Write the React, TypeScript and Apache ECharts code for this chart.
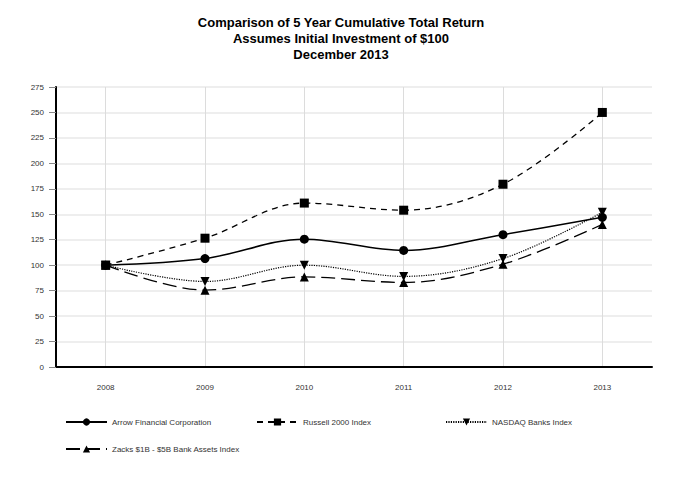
import React, { useEffect, useRef } from "react";
import * as echarts from "echarts";

const years = ["2008", "2009", "2010", "2011", "2012", "2013"];
const arrow = [100, 106.5, 125.5, 114.5, 130, 147];
const russell = [100, 126.5, 161, 154, 179.5, 250];
const nasdaq = [100, 84, 100, 89, 106.5, 152];
const zacks = [100, 75.5, 88.5, 83, 101, 140];
const seriesNames = [
  "Arrow Financial Corporation",
  "Russell 2000 Index",
  "NASDAQ Banks Index",
  "Zacks $1B - $5B Bank Assets Index",
];
const titleText =
  "Comparison of 5 Year Cumulative Total Return\nAssumes Initial Investment of $100\nDecember 2013";

export default function App() {
  const ref = useRef<HTMLDivElement>(null);
  useEffect(() => {
    if (!ref.current) return;
    const chart = echarts.init(ref.current, undefined, { renderer: "svg" });
    const font = "Liberation Sans, Arial, sans-serif";
    const mk = (
      name: string,
      data: number[],
      symbol: string,
      type: any,
      width: number,
      size: number
    ) => ({
      name,
      type: "line",
      data,
      smooth: 0.35,
      symbol,
      symbolSize: size,
      showSymbol: true,
      lineStyle: { color: "#000", width, type },
      itemStyle: { color: "#000" },
      emphasis: { disabled: true },
    });
    const legendCommon = {
      itemWidth: 41,
      itemHeight: 9,
      itemGap: 9,
      textStyle: { fontSize: 8, color: "#333", fontFamily: font },
      selectedMode: false,
    };
    chart.setOption({
      animation: false,
      backgroundColor: "#fff",
      title: {
        text: titleText,
        left: "center",
        top: 9,
        textStyle: {
          fontSize: 13,
          fontWeight: "bold",
          color: "#000",
          lineHeight: 16,
          fontFamily: font,
        },
      },
      grid: { left: 56, right: 30, top: 87, bottom: 113 },
      legend: [
        { ...legendCommon, data: [seriesNames[0]], left: 60, top: 413 },
        { ...legendCommon, data: [seriesNames[1]], left: 251, top: 413 },
        { ...legendCommon, data: [seriesNames[2]], left: 440, top: 413 },
        { ...legendCommon, data: [seriesNames[3]], left: 60, top: 440 },
      ],
      xAxis: {
        type: "category",
        data: years,
        boundaryGap: true,
        axisLine: { lineStyle: { color: "#000", width: 2 } },
        axisTick: {
          alignWithLabel: true,
          length: 9,
          lineStyle: { color: "#888" },
        },
        axisLabel: { fontSize: 8, color: "#333", margin: 16, fontFamily: font },
        splitLine: {
          show: true,
          alignWithLabel: true,
          lineStyle: { color: "#dcdcdc", width: 1 },
        },
      },
      yAxis: {
        type: "value",
        min: 0,
        max: 275,
        interval: 25,
        axisLine: { show: true, lineStyle: { color: "#000", width: 2 } },
        axisTick: { show: true, length: 7, lineStyle: { color: "#888" } },
        axisLabel: { fontSize: 8, color: "#333", margin: 12, fontFamily: font },
        splitLine: { lineStyle: { color: "#e8e8e8", width: 1.5 } },
      },
      series: [
        mk(seriesNames[0], arrow, "circle", "solid", 1.5, 9),
        mk(seriesNames[1], russell, "rect", [6, 5], 1.3, 9),
        mk(seriesNames[2], nasdaq, "path://M0,0L10,0L5,9Z", [1.2, 1.2], 1.2, 9),
        mk(seriesNames[3], zacks, "triangle", [14, 6], 1.3, 9),
      ],
    });
    return () => chart.dispose();
  }, []);
  return <div ref={ref} style={{ width: 682, height: 480, margin: -8 }} />;
}
